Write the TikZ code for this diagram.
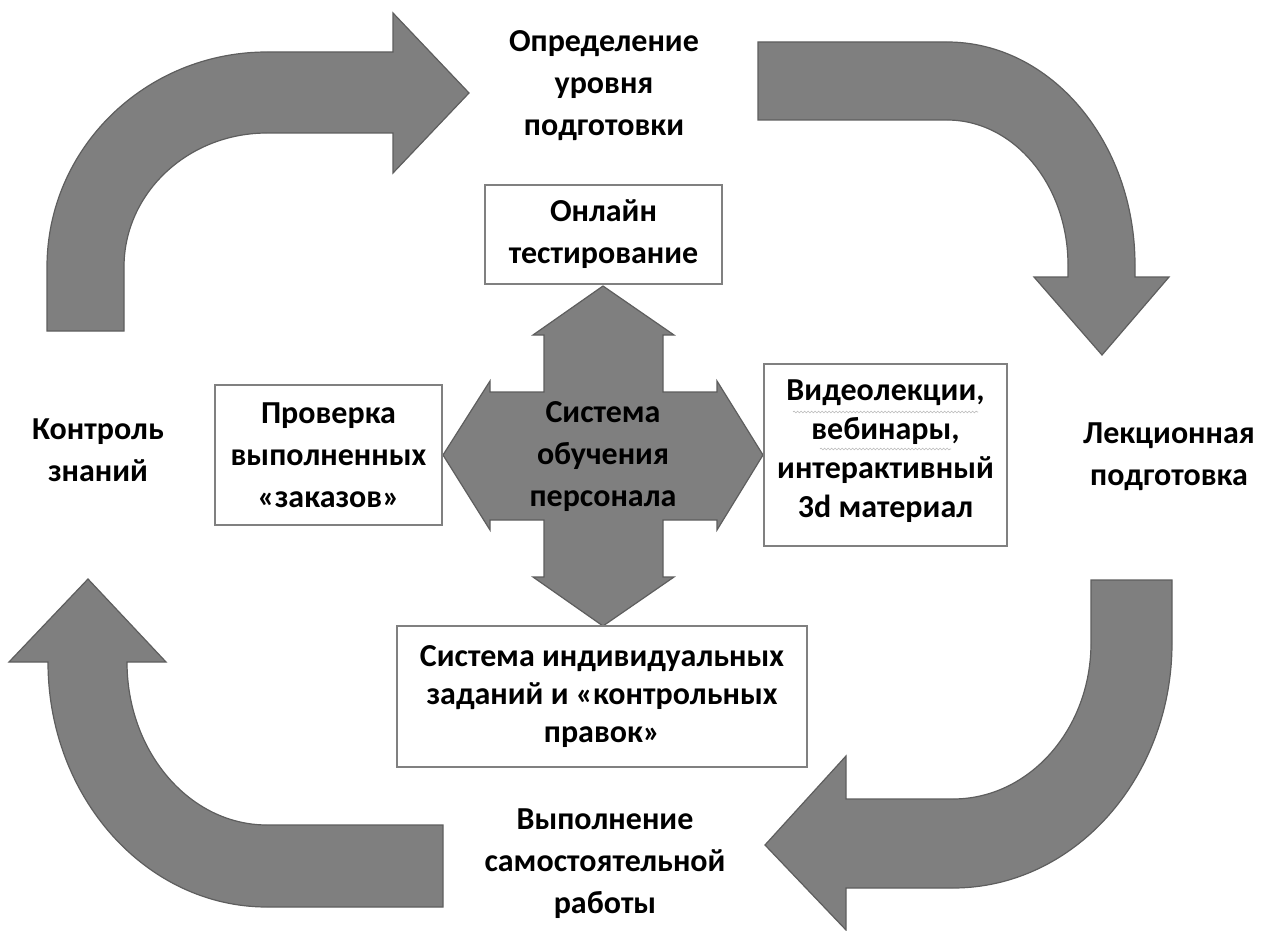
\documentclass[tikz,border=0pt]{standalone}
\usepackage{fontspec}
\setmainfont{Carlito}
\usetikzlibrary{decorations.pathmorphing}

\definecolor{arrowfill}{HTML}{7F7F7F}
\definecolor{arrowline}{HTML}{5E5E5E}
\definecolor{boxline}{HTML}{808080}

\tikzset{
  bigarrow/.style={fill=arrowfill, draw=arrowline, line width=1.2pt, line join=miter},
  infobox/.style={draw=boxline, line width=1.6pt, fill=white, align=center,
    inner sep=0pt, font=\bfseries\fontsize{32}{41}\selectfont},
  label/.style={align=center, inner sep=0pt, font=\bfseries\fontsize{32}{42}\selectfont},
  squiggle/.style={draw=gray!55, line width=0.6pt,
    decorate, decoration={snake, amplitude=0.9pt, segment length=3.5pt}}
}

\begin{document}
\begin{tikzpicture}[x=1pt, y=-1pt]
\useasboundingbox (0,0) rectangle (1262,931);

% --- cycle arrows ---
% top left: up and over to the right
\path[bigarrow] (47,331) -- (47,267)
  arc[start angle=180, end angle=270, x radius=220, y radius=215]
  -- (393,52) -- (393,13) -- (469,93) -- (393,173) -- (393,133) -- (267,133)
  arc[start angle=270, end angle=180, x radius=143, y radius=134]
  -- (124,331) -- cycle;

% top right: across and down
\path[bigarrow] (758,42) -- (947,42)
  arc[start angle=270, end angle=360, x radius=188, y radius=223]
  -- (1135,277) -- (1169,277) -- (1102,355) -- (1034,277) -- (1068,277) -- (1068,265)
  arc[start angle=0, end angle=-90, x radius=121, y radius=145]
  -- (758,120) -- cycle;

% bottom right: down and round to the left
\path[bigarrow] (1091,580) -- (1172,580) -- (1172,643)
  arc[start angle=0, end angle=90, x radius=219, y radius=245]
  -- (846,888) -- (846,930) -- (765,845) -- (846,756) -- (846,799) -- (953,799)
  arc[start angle=90, end angle=0, x radius=138, y radius=156]
  -- cycle;

% bottom left: across and up
\path[bigarrow] (48,662)
  arc[start angle=180, end angle=90, x radius=219, y radius=245]
  -- (443,907) -- (443,825) -- (267,825)
  arc[start angle=90, end angle=180, x radius=140, y radius=163]
  -- (127,662) -- (166,662) -- (88,579) -- (9,662) -- cycle;

% --- central four-way arrow ---
\path[bigarrow] (603,286) -- (674,335) -- (663,335) -- (663,392) -- (717,392) -- (717,381)
  -- (763,455) -- (717,530) -- (717,520) -- (663,520) -- (663,577) -- (674,577)
  -- (603,626) -- (533,577) -- (544,577) -- (544,520) -- (490,520) -- (490,530)
  -- (443,455) -- (490,381) -- (490,392) -- (544,392) -- (544,335) -- (533,335) -- cycle;
\node[label] (core) at (603,457) {Система\\обучения\\персонала};

% --- boxes around the centre ---
\node[infobox, minimum width=237pt, minimum height=99pt, font=\bfseries\fontsize{32}{42}\selectfont]
  (online) at (603.5,234.5) {Онлайн\\тестирование};
\node[infobox, minimum width=227pt, minimum height=140pt, font=\bfseries\fontsize{32}{42}\selectfont]
  (check) at (328.5,455) {Проверка\\выполненных\\«заказов»};
\node[infobox, minimum width=243pt, minimum height=182pt] (video) at (885.5,455) {};
\node[label, font=\bfseries\fontsize{32}{39}\selectfont]
  (videotext) at (885.5,451) {Видеолекции,\\вебинары,\\интерактивный\\3d материал};
\node[infobox, minimum width=410pt, minimum height=141pt, font=\bfseries\fontsize{32}{38}\selectfont]
  (tasks) at (602,696.5) {Система индивидуальных\\заданий и «контрольных\\правок»};

% spell-check squiggles under the first two lines of the video box
\coordinate (sqA1) at (793,412);
\coordinate (sqA2) at (978,412);
\coordinate (sqB1) at (820,449);
\coordinate (sqB2) at (951,449);
\draw[squiggle] (sqA1) -- (sqA2);
\draw[squiggle] (sqB1) -- (sqB2);

% --- stage labels of the cycle ---
\node[label] (level) at (604,86) {Определение\\уровня\\подготовки};
\node[label] (lecture) at (1169,457) {Лекционная\\подготовка};
\node[label] (selfwork) at (605,864) {Выполнение\\самостоятельной\\работы};
\node[label] (control) at (98,450) {Контроль\\знаний};
\end{tikzpicture}
\end{document}
